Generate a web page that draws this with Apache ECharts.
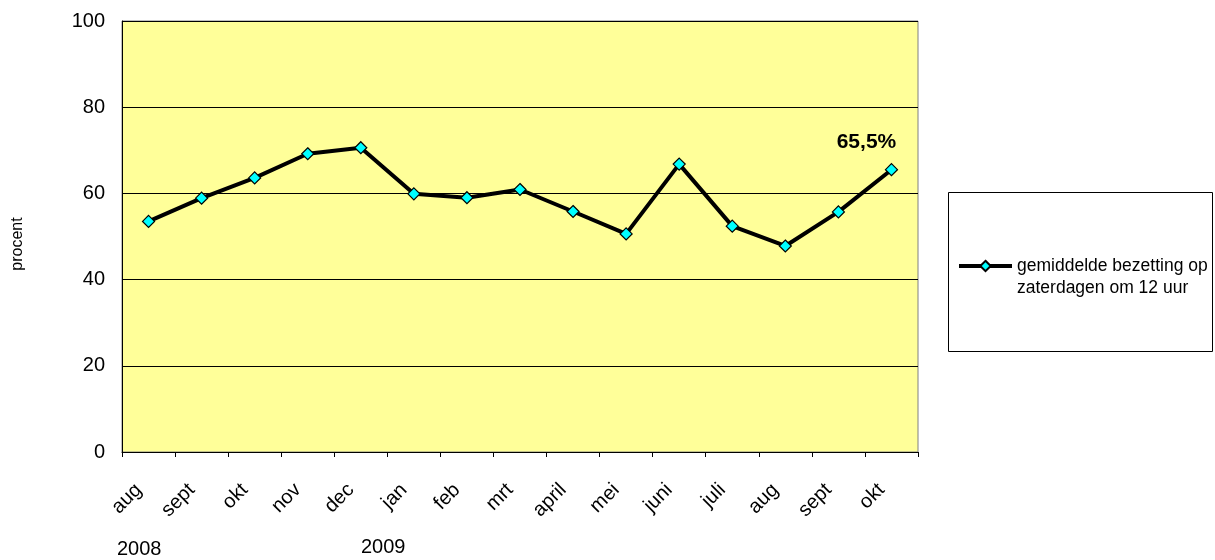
<!DOCTYPE html>
<html>
<head>
<meta charset="utf-8">
<script src="https://cdn.jsdelivr.net/npm/echarts@6/dist/echarts.min.js"></script>
<style>
  html, body { margin: 0; padding: 0; background: #fff; }
  #chart { width: 1215px; height: 560px; }
</style>
</head>
<body>
<div id="chart"></div>
<script>
// maanden (aug 2008 t/m okt 2009)
const months = ['aug', 'sept', 'okt', 'nov', 'dec', 'jan', 'feb', 'mrt', 'april', 'mei', 'juni', 'juli', 'aug', 'sept', 'okt']
// gemiddelde bezetting in procent
const bezetting = [53.5, 58.9, 63.6, 69.2, 70.6, 59.9, 59.0, 60.9, 55.8, 50.6, 66.8, 52.4, 47.8, 55.7, 65.5]
const yTicks = [0, 20, 40, 60, 80, 100]
const seriesName = 'gemiddelde bezetting op\nzaterdagen om 12 uur'
const lastLabel = '65,5%'

const font = 'Liberation Sans, Arial, sans-serif'
const chart = echarts.init(document.getElementById('chart'))

// alleen het laatste punt krijgt een label
const pointData = bezetting.map((v, i) => {
  if (i !== bezetting.length - 1) return v
  return {
    value: v,
    label: {
      show: true,
      position: 'top',
      distance: 10,
      offset: [-25, 0],
      formatter: lastLabel,
      fontFamily: font,
      fontSize: 21,
      fontWeight: 'bold',
      color: '#000'
    }
  }
})

const option = {
  animation: false,
  backgroundColor: '#fff',
  grid: {
    left: 122,
    top: 21,
    width: 796,
    height: 431,
    show: true,
    backgroundColor: '#FFFF99',
    borderColor: '#808080',
    borderWidth: 1
  },
  legend: {
    left: 952,
    top: 228,
    itemWidth: 53,
    itemHeight: 13,
    itemGap: 0,
    selectedMode: false,
    lineStyle: { width: 4 },
    // lege eerste regel zodat de eerste tekstregel gelijk staat met het icoon
    formatter: name => '\n' + name,
    textStyle: {
      fontFamily: font,
      fontSize: 17.5,
      color: '#000',
      lineHeight: 22
    },
    data: [seriesName]
  },
  xAxis: {
    type: 'category',
    data: months,
    boundaryGap: true,
    axisLine: { lineStyle: { color: '#000', width: 1 } },
    axisTick: { show: true, alignWithLabel: false, length: 5, lineStyle: { color: '#000' } },
    axisLabel: {
      rotate: 45,
      margin: 25,
      padding: [0, 14, 0, 0],
      interval: 0,
      fontFamily: font,
      fontSize: 20,
      color: '#000'
    }
  },
  yAxis: {
    type: 'value',
    min: yTicks[0],
    max: yTicks[yTicks.length - 1],
    interval: yTicks[1] - yTicks[0],
    axisLine: { show: true, lineStyle: { color: '#000', width: 1 } },
    axisTick: { show: false },
    axisLabel: {
      margin: 17,
      fontFamily: font,
      fontSize: 20,
      color: '#000'
    },
    splitLine: { show: true, lineStyle: { color: '#000', width: 1 } }
  },
  series: [{
    name: seriesName,
    type: 'line',
    data: pointData,
    symbol: 'diamond',
    symbolSize: 12,
    lineStyle: { color: '#000', width: 4 },
    itemStyle: { color: '#00FFFF', borderColor: '#000', borderWidth: 1.2 },
    z: 3
  }],
  graphic: [
    {
      type: 'rect',
      shape: { x: 948.5, y: 192.5, width: 264, height: 159 },
      style: { fill: 'none', stroke: '#000', lineWidth: 1 },
      z: -1
    },
    {
      type: 'text',
      x: 18,
      y: 244,
      rotation: Math.PI / 2,
      style: { text: 'procent', fill: '#000', font: '16px ' + font, textAlign: 'center', textVerticalAlign: 'middle' }
    },
    {
      type: 'text',
      x: 117,
      y: 539,
      style: { text: '2008', fill: '#000', font: '20px ' + font }
    },
    {
      type: 'text',
      x: 361,
      y: 537,
      style: { text: '2009', fill: '#000', font: '20px ' + font }
    }
  ]
}

chart.setOption(option)
</script>
</body>
</html>
